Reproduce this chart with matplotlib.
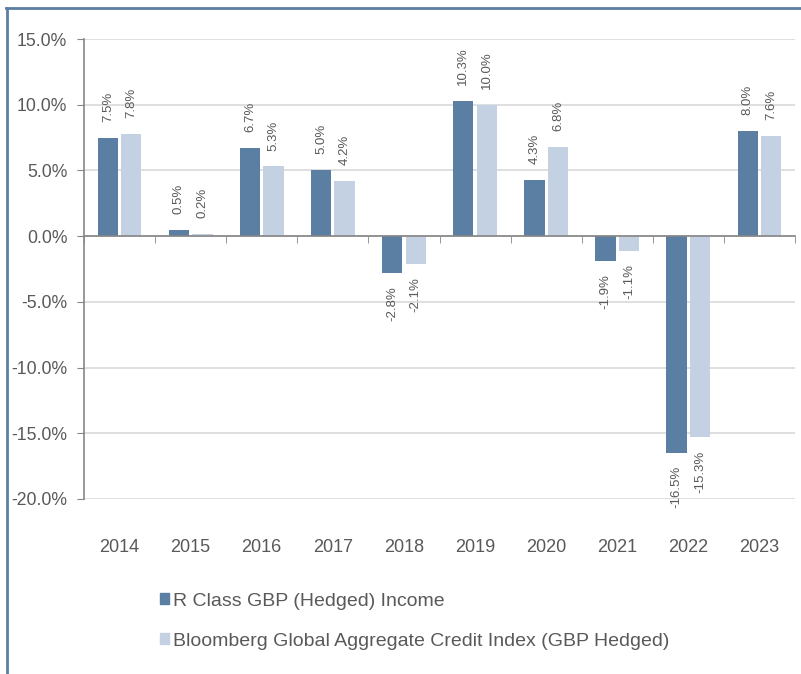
import matplotlib
matplotlib.use("Agg")
import matplotlib.pyplot as plt
import matplotlib.transforms as mtransforms
from matplotlib.patches import Patch
from matplotlib.lines import Line2D
import numpy as np

# Calendar year returns (%)
years = ["2014", "2015", "2016", "2017", "2018", "2019", "2020", "2021", "2022", "2023"]
fund_returns = [7.5, 0.5, 6.7, 5.0, -2.8, 10.3, 4.3, -1.9, -16.5, 8.0]
index_returns = [7.8, 0.2, 5.3, 4.2, -2.1, 10.0, 6.8, -1.1, -15.3, 7.6]
series_names = ["R Class GBP (Hedged) Income",
                "Bloomberg Global Aggregate Credit Index (GBP Hedged)"]
y_ticks = [15, 10, 5, 0, -5, -10, -15, -20]

DARK = "#5b7fa3"
LIGHT = "#c3d1e3"
TXT = "#595959"

plt.rcParams['font.family'] = ['Liberation Sans', 'DejaVu Sans']

fig = plt.figure(figsize=(8.01, 6.74), dpi=100)
ax = fig.add_axes([84/801, 1-499/674, (795-84)/801, (499-39)/674])

x = np.arange(len(years))
w = 0.285
off = 0.165
b1 = ax.bar(x - off, fund_returns, w, color=DARK)
b2 = ax.bar(x + off, index_returns, w, color=LIGHT)

# data labels, rotated
for bars, vals in [(b1, fund_returns), (b2, index_returns)]:
    for rect, v in zip(bars, vals):
        cx = rect.get_x() + rect.get_width()/2
        if v >= 0:
            ax.annotate(f"{v:.1f}%", (cx, v), xytext=(0, 11.5), textcoords="offset points",
                        rotation=90, ha="center", va="bottom", fontsize=9.5, color=TXT)
        else:
            ax.annotate(f"{v:.1f}%", (cx, v), xytext=(0, -9.5), textcoords="offset points",
                        rotation=90, ha="center", va="top", fontsize=9.5, color=TXT)

ax.set_xlim(-0.5, len(years) - 0.5)
ax.set_ylim(-20, 15)
ax.set_yticks(y_ticks)
ax.set_yticklabels([f"{t:.1f}%" for t in y_ticks])
ax.grid(axis="y", color="#d9d9d9", lw=1.2, zorder=0)
ax.set_axisbelow(True)

for s in ["top", "right"]:
    ax.spines[s].set_visible(False)
ax.spines["left"].set_color("#868686")
ax.spines["left"].set_linewidth(1.2)
ax.spines["bottom"].set_position(("data", 0))
ax.spines["bottom"].set_color("#868686")
ax.spines["bottom"].set_linewidth(1.2)
ax.spines["bottom"].set_zorder(3)

ax.tick_params(axis="y", direction="out", length=5, color="#868686", labelsize=12.7,
               labelcolor=TXT, pad=7)
ax.set_xticks(x)
ax.set_xticklabels([])
ax.tick_params(axis="x", which="major", length=0)
ax.set_xticks(np.arange(-0.5, len(years)), minor=True)
ax.tick_params(axis="x", which="minor", direction="out", length=5, color="#868686")

trans = mtransforms.blended_transform_factory(ax.transData, ax.transAxes)
for xi, yr in zip(x, years):
    ax.text(xi, -48/460, yr, transform=trans, ha="center", va="center",
            fontsize=13, color=TXT)

handles = [Patch(color=DARK), Patch(color=LIGHT)]
fig.legend(handles, series_names, loc="upper left", bbox_to_anchor=(142/801, 1-575/674),
           frameon=False, fontsize=14, handlelength=0.5, handleheight=0.5,
           handletextpad=0.2, labelspacing=1.2, labelcolor=TXT)

# outer frame (top and left edges)
fig.add_artist(Line2D([6/801, 1], [1-8/674, 1-8/674], transform=fig.transFigure,
                      color="#5b7fa3", lw=2))
fig.add_artist(Line2D([7/801, 7/801], [0, 1-8/674], transform=fig.transFigure,
                      color="#5b7fa3", lw=2))

fig.savefig("out.png", dpi=100)
